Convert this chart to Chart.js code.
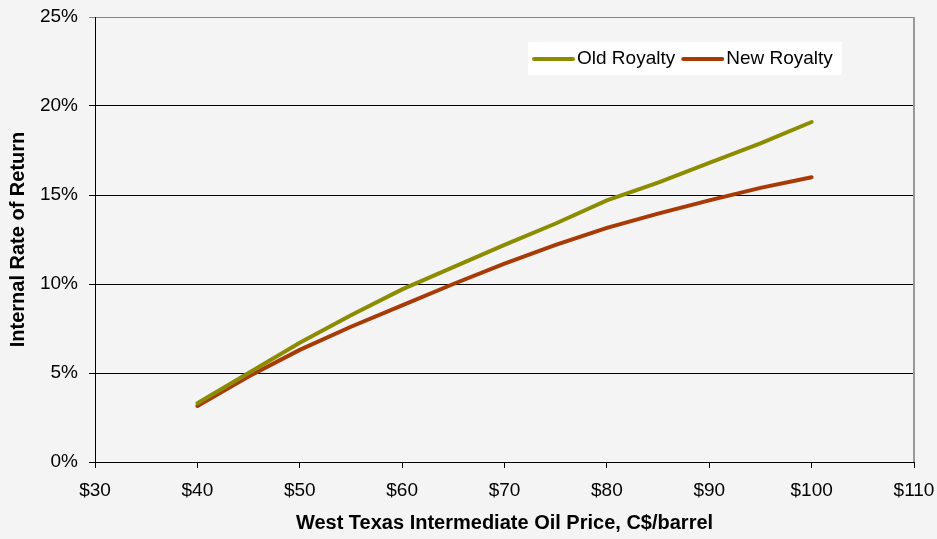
<!DOCTYPE html>
<html>
<head>
<meta charset="utf-8">
<script src="https://cdn.jsdelivr.net/npm/chart.js@4.4.0/dist/chart.umd.min.js"></script>
<style>
  html, body { margin: 0; padding: 0; background: #f4f4f4; }
  #wrap { width: 937px; height: 539px; position: relative; }
</style>
</head>
<body>
<div id="wrap"><canvas id="irrChart" width="937" height="539"></canvas></div>
<script>
// --- Data ---
const prices = [40, 45, 50, 55, 60, 65, 70, 75, 80, 85, 90, 95, 100];
const oldRoyalty = [3.3, 5.0, 6.7, 8.25, 9.7, 10.95, 12.2, 13.4, 14.7, 15.7, 16.8, 17.9, 19.1];
const newRoyalty = [3.15, 4.8, 6.3, 7.6, 8.8, 10.0, 11.15, 12.2, 13.15, 13.95, 14.7, 15.4, 16.0];
const xTicks = [30, 40, 50, 60, 70, 80, 90, 100, 110];
const yTicks = [0, 5, 10, 15, 20, 25];

const FONT = '"Liberation Sans", Arial, sans-serif';

// --- Legend box + right border ---
const extras = {
  id: 'extras',
  afterDraw(chart) {
    const { ctx, chartArea } = chart;
    ctx.save();
    // right border of the plot
    ctx.strokeStyle = '#999';
    ctx.lineWidth = 2;
    ctx.beginPath();
    ctx.moveTo(chartArea.right, chartArea.top);
    ctx.lineTo(chartArea.right, chartArea.bottom);
    ctx.stroke();

    // legend
    const bx = chartArea.left + 433, by = chartArea.top + 25;
    ctx.fillStyle = '#ffffff';
    ctx.fillRect(bx, by, 314, 33);
    ctx.font = '19px ' + FONT;
    ctx.textBaseline = 'middle';
    let x = bx + 6;
    chart.data.datasets.forEach(ds => {
      ctx.strokeStyle = ds.borderColor;
      ctx.lineWidth = 4;
      ctx.lineCap = 'round';
      ctx.beginPath();
      ctx.moveTo(x, by + 17);
      ctx.lineTo(x + 39, by + 17);
      ctx.stroke();
      ctx.fillStyle = '#000';
      ctx.fillText(ds.label, x + 43, by + 17);
      x += 43 + ctx.measureText(ds.label).width + 8;
    });
    ctx.restore();
  }
};

new Chart(document.getElementById('irrChart'), {
  type: 'line',
  data: {
    datasets: [
      {
        label: 'Old Royalty',
        data: prices.map((p, i) => ({ x: p, y: oldRoyalty[i] })),
        borderColor: '#8c8c00',
        borderWidth: 4,
        borderCapStyle: 'round',
        pointRadius: 0,
        tension: 0
      },
      {
        label: 'New Royalty',
        data: prices.map((p, i) => ({ x: p, y: newRoyalty[i] })),
        borderColor: '#a83a06',
        borderWidth: 4,
        borderCapStyle: 'round',
        pointRadius: 0,
        tension: 0
      }
    ]
  },
  options: {
    responsive: false,
    animation: false,
    layout: { padding: { top: 17, right: 23, left: 0, bottom: 0 } },
    plugins: { legend: { display: false }, tooltip: { enabled: false } },
    scales: {
      x: {
        type: 'linear',
        min: 30, max: 110,
        afterBuildTicks: s => { s.ticks = xTicks.map(v => ({ value: v })); },
        afterFit: s => { s.height = 77; s.paddingLeft = 0; s.paddingRight = 0; },
        ticks: { color: '#000', font: { family: FONT, size: 19 }, padding: 11, maxRotation: 0,
                  callback: v => '$' + v },
        grid: { drawOnChartArea: false, color: '#000', tickLength: 6 },
        border: { color: '#000', width: 1 },
        title: { display: true, text: 'West Texas Intermediate Oil Price, C$/barrel', color: '#000',
                 font: { family: FONT, size: 20, weight: 'bold' }, padding: { top: 10, bottom: 4 } }
      },
      y: {
        min: 0, max: 25,
        afterBuildTicks: s => { s.ticks = yTicks.map(v => ({ value: v })); },
        afterFit: s => { s.width = 95; s.paddingTop = 0; s.paddingBottom = 0; },
        ticks: { color: '#000', font: { family: FONT, size: 19 }, padding: 11,
                 callback: v => v + '%' },
        grid: { color: c => c.tick && c.tick.value === 25 ? '#888' : '#000', tickLength: 6, lineWidth: 1 },
        border: { color: '#000', width: 1 },
        title: { display: true, text: 'Internal Rate of Return', color: '#000',
                 font: { family: FONT, size: 20, weight: 'bold' }, padding: { bottom: 0, top: 6 } }
      }
    }
  },
  plugins: [extras]
});
</script>
</body>
</html>
